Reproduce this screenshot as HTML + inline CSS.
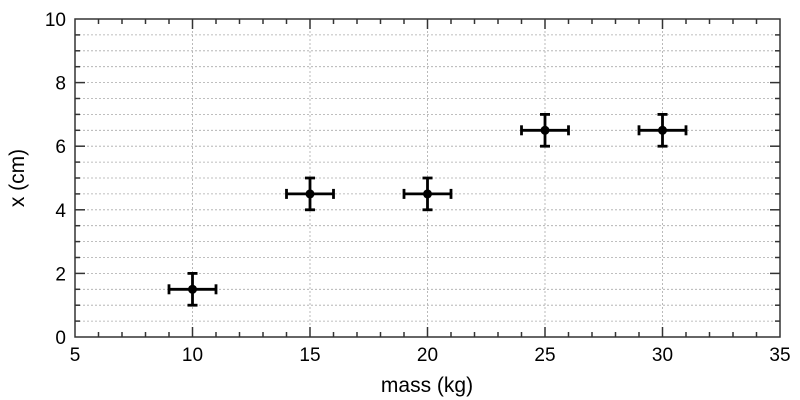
<!DOCTYPE html>
<html><head><style>
html,body{margin:0;padding:0;background:#fff;}
svg{display:block;font-family:"Liberation Sans",Arial,sans-serif;}
</style></head><body>
<svg id="s" width="800" height="400" viewBox="0 0 800 400" xmlns="http://www.w3.org/2000/svg"></svg>
<script>
const s=document.getElementById('s');
const L=75,R=780,T=19,B=337;
const X=v=>L+(v-5)*(R-L)/30, Y=v=>B-v*(B-T)/10;
let h='';
for(let v=0.5;v<10;v+=0.5){const y=Y(v);h+=`<line x1="${L}" x2="${R}" y1="${y}" y2="${y}" stroke="#aaa" stroke-width="0.8" stroke-dasharray="2,2"/>`;}
for(let v=10;v<35;v+=5){const x=X(v);h+=`<line x1="${x}" x2="${x}" y1="${T}" y2="${B}" stroke="#aaa" stroke-width="0.8" stroke-dasharray="2,2"/>`;}
for(let v=6;v<35;v++){const x=X(v),l=(v%5==0)?10:5;
h+=`<line x1="${x}" x2="${x}" y1="${B}" y2="${B-l}" stroke="#333" stroke-width="1.5"/><line x1="${x}" x2="${x}" y1="${T}" y2="${T+l}" stroke="#333" stroke-width="1.5"/>`;}
for(let v=0.5;v<10;v+=0.5){const y=Y(v),l=(v%2==0)?10:5;
h+=`<line x1="${L}" x2="${L+l}" y1="${y}" y2="${y}" stroke="#333" stroke-width="1.5"/><line x1="${R}" x2="${R-l}" y1="${y}" y2="${y}" stroke="#333" stroke-width="1.5"/>`;}
h+=`<rect x="${L}" y="${T}" width="${R-L}" height="${B-T}" fill="none" stroke="#333" stroke-width="1.5"/>`;
for(let v=5;v<=35;v+=5)h+=`<text x="${X(v)}" y="361" font-size="19" text-anchor="middle">${v}</text>`;
for(let v=0;v<=10;v+=2)h+=`<text x="66" y="${Y(v)+7}" font-size="19" text-anchor="end">${v}</text>`;
h+=`<text x="427" y="392" font-size="21" text-anchor="middle">mass (kg)</text>`;
h+=`<text transform="translate(24,178) rotate(-90)" font-size="21" text-anchor="middle">x (cm)</text>`;
const d=[[10,1.5],[15,4.5],[20,4.5],[25,6.5],[30,6.5]];
for(const [a,b] of d){const x=X(a),y=Y(b),x1=X(a-1),x2=X(a+1),y1=Y(b-0.5),y2=Y(b+0.5);
h+=`<g stroke="#000" stroke-width="2.8"><line x1="${x1}" x2="${x2}" y1="${y}" y2="${y}"/><line x1="${x}" x2="${x}" y1="${y1}" y2="${y2}"/>
<line x1="${x1}" x2="${x1}" y1="${y-5}" y2="${y+5}"/><line x1="${x2}" x2="${x2}" y1="${y-5}" y2="${y+5}"/>
<line x1="${x-5}" x2="${x+5}" y1="${y1}" y2="${y1}"/><line x1="${x-5}" x2="${x+5}" y1="${y2}" y2="${y2}"/></g><circle cx="${x}" cy="${y}" r="4.5" fill="#000"/>`;}
s.innerHTML=h;
</script>
</body></html>
